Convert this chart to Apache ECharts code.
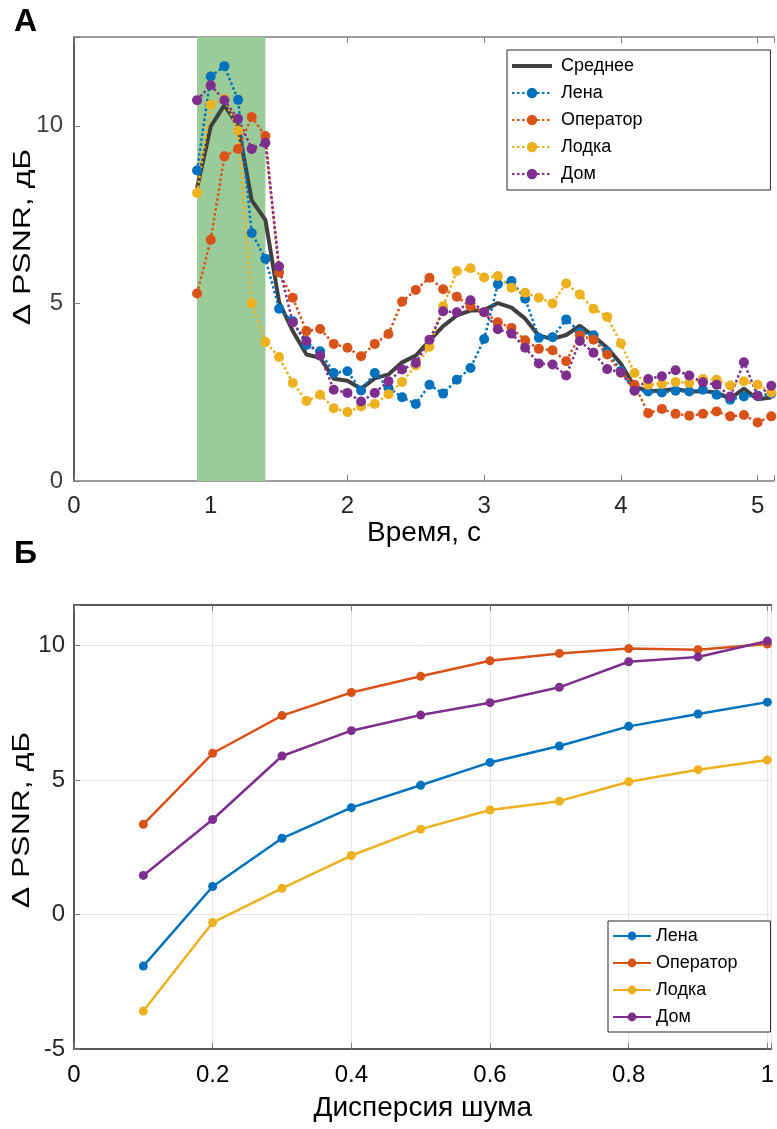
<!DOCTYPE html>
<html>
<head>
<meta charset="utf-8">
<script src="https://cdn.jsdelivr.net/npm/echarts@6/dist/echarts.min.js"></script>
<style>
  html, body { margin: 0; padding: 0; background: #ffffff; }
  #main { width: 777px; height: 1129px; }
</style>
</head>
<body>
<div id="main"></div>
<script>
// Panel A: PSNR gain over time, 0.9 … 5.1 s
const timeSec = [0.9, 1.0, 1.1, 1.2, 1.3, 1.4, 1.5, 1.6, 1.7, 1.8, 1.9, 2.0, 2.1, 2.2, 2.3, 2.4, 2.5, 2.6, 2.7, 2.8, 2.9,
                 3.0, 3.1, 3.2, 3.3, 3.4, 3.5, 3.6, 3.7, 3.8, 3.9, 4.0, 4.1, 4.2, 4.3, 4.4, 4.5, 4.6, 4.7, 4.8, 4.9, 5.0, 5.1];
const meanGain = [8.25, 9.98, 10.58, 10.0, 7.9, 7.35, 5.04, 4.22, 3.56, 3.47, 2.88, 2.82, 2.6, 2.89, 3.0, 3.34, 3.53, 3.95, 4.36, 4.66, 4.8,
                  4.81, 5.01, 4.88, 4.57, 4.09, 4.0, 4.11, 4.37, 4.08, 3.75, 3.3, 2.66, 2.53, 2.55, 2.59, 2.52, 2.53, 2.49, 2.32, 2.6, 2.3, 2.35];
const lenaGain = [8.74, 11.39, 11.68, 10.73, 6.98, 6.26, 4.85, 4.5, 3.83, 3.65, 3.04, 3.09, 2.55, 3.04, 2.62, 2.36, 2.17, 2.71, 2.46, 2.85, 3.18,
                  4.0, 5.54, 5.63, 5.13, 4.03, 4.05, 4.55, 4.19, 4.1, 3.64, 3.1, 2.55, 2.52, 2.49, 2.54, 2.52, 2.57, 2.43, 2.29, 2.38, 2.4, 2.46];
const operatorGain = [5.28, 6.79, 9.14, 9.35, 10.25, 9.71, 5.87, 5.16, 4.22, 4.28, 3.86, 3.75, 3.51, 3.86, 4.14, 5.05, 5.38, 5.72, 5.4, 5.19, 4.92,
                      4.75, 4.47, 4.31, 3.96, 3.72, 3.68, 3.37, 4.1, 3.98, 3.56, 3.05, 2.71, 1.91, 2.03, 1.89, 1.84, 1.89, 1.96, 1.82, 1.86, 1.65, 1.82];
const boatGain = [8.11, 10.59, 10.76, 9.87, 5.0, 3.91, 3.49, 2.76, 2.25, 2.43, 2.05, 1.94, 2.1, 2.17, 2.44, 2.79, 3.25, 3.78, 4.92, 5.91, 5.99,
                  5.73, 5.77, 5.44, 5.3, 5.16, 5.0, 5.56, 5.25, 4.85, 4.62, 3.87, 3.04, 2.71, 2.73, 2.79, 2.76, 2.87, 2.85, 2.69, 2.81, 2.71, 2.49];
const houseGain = [10.72, 11.14, 10.72, 10.2, 9.35, 9.52, 6.04, 4.46, 3.94, 3.53, 2.57, 2.48, 2.24, 2.48, 2.81, 3.14, 3.32, 3.98, 4.78, 4.75, 5.09,
                   4.75, 4.27, 4.15, 3.75, 3.31, 3.28, 2.97, 3.94, 3.61, 3.15, 3.06, 2.54, 2.87, 2.95, 3.12, 2.97, 2.78, 2.71, 2.38, 3.34, 2.4, 2.68];
// highlighted interval on the time axis
const bandStart = 0.9;
const bandEnd = 1.4;

// Panel Б: PSNR gain versus noise variance
const noiseVar = [0.1, 0.2, 0.3, 0.4, 0.5, 0.6, 0.7, 0.8, 0.9, 1.0];
const lenaNoise = [-1.92, 1.04, 2.83, 3.97, 4.8, 5.65, 6.26, 6.99, 7.45, 7.89];
const operatorNoise = [3.35, 5.99, 7.39, 8.25, 8.85, 9.43, 9.7, 9.88, 9.84, 10.05];
const boatNoise = [-3.59, -0.3, 0.97, 2.19, 3.17, 3.88, 4.21, 4.93, 5.38, 5.74];
const houseNoise = [1.45, 3.53, 5.89, 6.83, 7.41, 7.87, 8.44, 9.39, 9.57, 10.16];

const names = ['Среднее', 'Лена', 'Оператор', 'Лодка', 'Дом'];
const colors = { mean: '#404040', lena: '#0072BD', operator: '#D95319', boat: '#EDB120', house: '#7E2F8E' };

const SANS = '"Liberation Sans", Arial, sans-serif';

function pairs(xs, ys) { return xs.map((x, i) => [x, ys[i]]); }

function dottedSeries(name, ys, color) {
  return {
    name, type: 'line', xAxisIndex: 0, yAxisIndex: 0,
    data: pairs(timeSec, ys),
    symbol: 'circle', symbolSize: 10, showSymbol: true, showAllSymbol: true,
    lineStyle: { color, width: 2.5, type: [2.5, 2.5] },
    itemStyle: { color, borderWidth: 0 },
    z: 3
  };
}

function solidSeries(name, ys, color) {
  return {
    name: name + ' ', type: 'line', xAxisIndex: 2, yAxisIndex: 1,
    data: pairs(noiseVar, ys),
    symbol: 'circle', symbolSize: 9, showSymbol: true,
    lineStyle: { color, width: 2.5 },
    itemStyle: { color, borderWidth: 0 },
    z: 3
  };
}

const intLabel = v => (Math.abs(v - Math.round(v)) < 1e-9 ? String(Math.round(v)) : '');
const stepLabel = step => v => {
  const k = v / step;
  return Math.abs(k - Math.round(k)) < 1e-6 ? String(+(Math.round(k) * step).toFixed(1)) : '';
};

// legend entries: the mean is a plain thick bar, the others keep their line + marker
const topLegendData = names.map(n => (n === 'Среднее'
  ? { name: n, icon: 'path://M0,0 L40,0 L40,4 L0,4 Z' }
  : { name: n }));

const chart = echarts.init(document.getElementById('main'), null, { renderer: 'canvas' });

chart.setOption({
  animation: false,
  backgroundColor: '#ffffff',
  grid: [
    { left: 74, top: 37, width: 703, height: 444 },
    { left: 74, top: 605, width: 703, height: 444 }
  ],
  xAxis: [
    {
      gridIndex: 0, type: 'value', min: 0, max: 5.12, interval: 1,
      name: 'Время, с', nameLocation: 'middle', nameGap: 38,
      nameTextStyle: { fontSize: 28, fontFamily: SANS, color: '#000' },
      axisLine: { onZero: false, lineStyle: { color: '#7f7f7f', width: 1.5 } },
      axisTick: { inside: true, length: 6, lineStyle: { color: '#7f7f7f' } },
      axisLabel: { margin: 13, fontSize: 24, fontFamily: SANS, color: '#262626', formatter: intLabel },
      splitLine: { show: false }
    },
    {
      gridIndex: 0, type: 'value', position: 'top', min: 0, max: 5.12, interval: 1,
      axisLine: { onZero: false, lineStyle: { color: '#7f7f7f', width: 1.5 } },
      axisTick: { inside: true, length: 6, lineStyle: { color: '#7f7f7f' } },
      axisLabel: { show: false }, splitLine: { show: false }
    },
    {
      gridIndex: 1, type: 'value', min: 0, max: 1.006, interval: 0.2,
      name: 'Дисперсия шума', nameLocation: 'middle', nameGap: 45,
      nameTextStyle: { fontSize: 28, fontFamily: SANS, color: '#000' },
      axisLine: { onZero: false, lineStyle: { color: '#262626', width: 1.5 } },
      axisTick: { inside: true, length: 6, lineStyle: { color: '#7f7f7f' } },
      axisLabel: { margin: 14, fontSize: 24, fontFamily: SANS, color: '#000', formatter: stepLabel(0.2) },
      splitLine: { show: true, lineStyle: { color: '#e6e6e6', width: 1 } }
    },
    {
      gridIndex: 1, type: 'value', position: 'top', min: 0, max: 1.006, interval: 0.2,
      axisLine: { onZero: false, lineStyle: { color: '#262626', width: 1.5 } },
      axisTick: { inside: true, length: 6, lineStyle: { color: '#7f7f7f' } },
      axisLabel: { show: false }, splitLine: { show: false }
    }
  ],
  yAxis: [
    {
      gridIndex: 0, type: 'value', min: 0, max: 12.5, interval: 5,
      axisLine: { show: true, onZero: false, lineStyle: { color: '#262626', width: 1.5 } },
      axisTick: { show: true, inside: true, length: 6, lineStyle: { color: '#7f7f7f' } },
      axisLabel: { margin: 11, fontSize: 24, fontFamily: SANS, color: '#404040', formatter: intLabel },
      splitLine: { show: false }
    },
    {
      gridIndex: 1, type: 'value', min: -5, max: 11.5, interval: 5,
      axisLine: { show: true, onZero: false, lineStyle: { color: '#262626', width: 1.5 } },
      axisTick: { show: true, inside: true, length: 6, lineStyle: { color: '#7f7f7f' } },
      axisLabel: { margin: 9, fontSize: 24, fontFamily: SANS, color: '#262626', formatter: stepLabel(5) },
      splitLine: { show: true, lineStyle: { color: '#e6e6e6', width: 1 } }
    }
  ],
  legend: [
    {
      data: topLegendData, orient: 'vertical', left: 507, top: 50,
      itemWidth: 40, itemHeight: 13, itemGap: 7,
      padding: [6, 128, 6, 4],
      borderColor: '#262626', borderWidth: 1, backgroundColor: '#ffffff',
      textStyle: { fontSize: 18, fontFamily: SANS, color: '#000', lineHeight: 20, padding: [0, 0, 0, 4] },
      selectedMode: false
    },
    {
      data: names.slice(1).map(n => n + ' '), orient: 'vertical', left: 608, top: 921,
      itemWidth: 38, itemHeight: 11, itemGap: 7,
      padding: [5, 33, 5, 4],
      borderColor: '#262626', borderWidth: 1, backgroundColor: '#ffffff',
      formatter: n => n.trim(),
      textStyle: { fontSize: 18, fontFamily: SANS, color: '#000', lineHeight: 20 },
      selectedMode: false
    }
  ],
  graphic: [
    { type: 'text', left: 14, top: 6, style: { text: 'А', font: 'bold 32px "Liberation Sans", Arial, sans-serif', fill: '#000' } },
    { type: 'text', left: 14, top: 538, style: { text: 'Б', font: 'bold 32px "Liberation Sans", Arial, sans-serif', fill: '#000' } },
    { type: 'text', x: 24, y: 237, rotation: Math.PI / 2, scaleX: 1, scaleY: 0.72,
      style: { text: 'Δ PSNR, дБ', font: '32px "Liberation Sans", Arial, sans-serif', fill: '#000', align: 'center', verticalAlign: 'middle' } },
    { type: 'text', x: 23, y: 820, rotation: Math.PI / 2, scaleX: 1, scaleY: 0.72,
      style: { text: 'Δ PSNR, дБ', font: '32px "Liberation Sans", Arial, sans-serif', fill: '#000', align: 'center', verticalAlign: 'middle' } }
  ],
  series: [
    {
      type: 'line', xAxisIndex: 0, yAxisIndex: 0, data: [], silent: true, z: 1,
      markArea: { silent: true, itemStyle: { color: '#9bcb98', opacity: 1 }, data: [[{ xAxis: bandStart }, { xAxis: bandEnd }]] }
    },
    {
      name: 'Среднее', type: 'line', xAxisIndex: 0, yAxisIndex: 0,
      data: pairs(timeSec, meanGain), symbol: 'none',
      lineStyle: { color: colors.mean, width: 4 }, itemStyle: { color: colors.mean }, z: 2
    },
    dottedSeries('Лена', lenaGain, colors.lena),
    dottedSeries('Оператор', operatorGain, colors.operator),
    dottedSeries('Лодка', boatGain, colors.boat),
    dottedSeries('Дом', houseGain, colors.house),
    solidSeries('Лена', lenaNoise, colors.lena),
    solidSeries('Оператор', operatorNoise, colors.operator),
    solidSeries('Лодка', boatNoise, colors.boat),
    solidSeries('Дом', houseNoise, colors.house)
  ]
});
</script>
</body>
</html>
